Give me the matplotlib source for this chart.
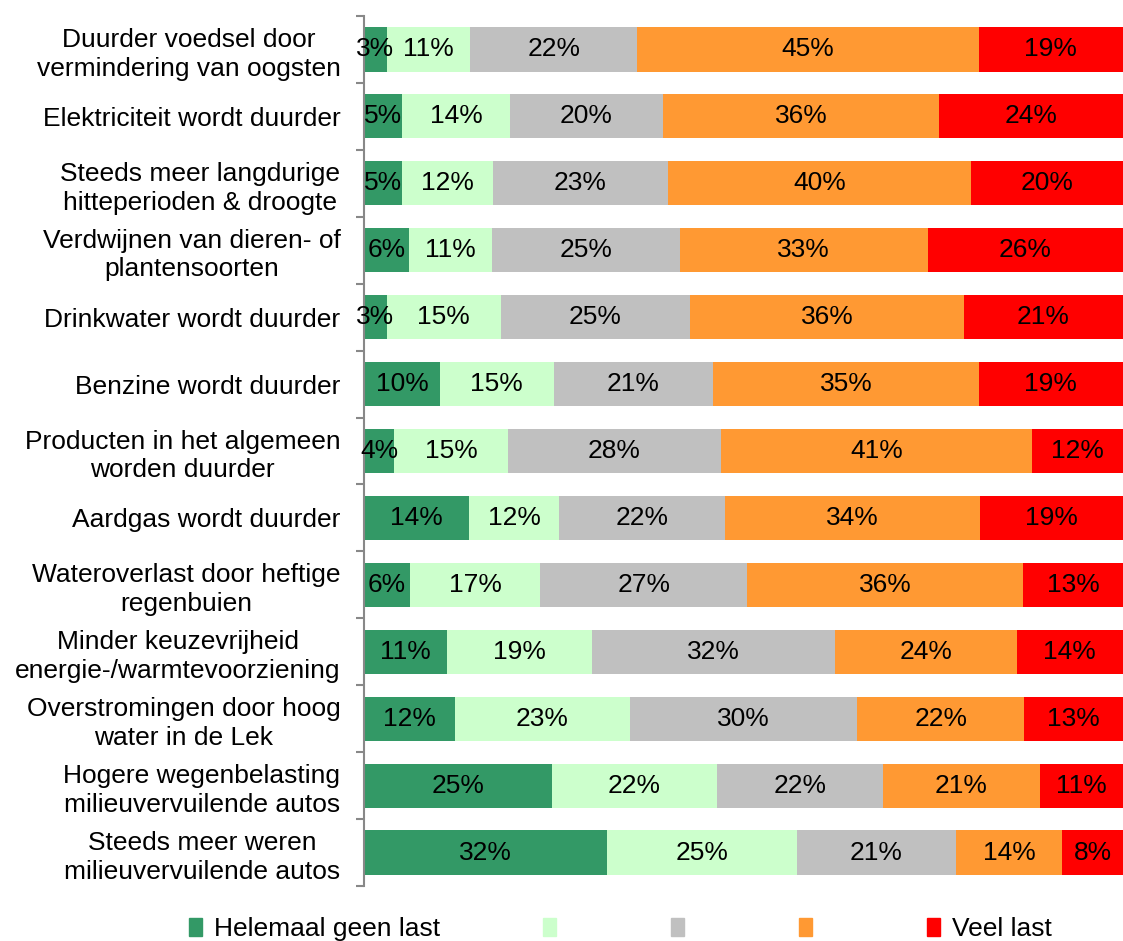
import matplotlib.pyplot as plt
import numpy as np
from matplotlib.patches import Patch

plt.rcParams['font.family'] = ['Liberation Sans', 'DejaVu Sans']

categories = [
    'Duurder voedsel door\nvermindering van oogsten',
    'Elektriciteit wordt duurder',
    'Steeds meer langdurige\nhitteperioden & droogte',
    'Verdwijnen van dieren- of\nplantensoorten',
    'Drinkwater wordt duurder',
    'Benzine wordt duurder',
    'Producten in het algemeen\nworden duurder',
    'Aardgas wordt duurder',
    'Wateroverlast door heftige\nregenbuien',
    'Minder keuzevrijheid\nenergie-/warmtevoorziening',
    'Overstromingen door hoog\nwater in de Lek',
    'Hogere wegenbelasting\nmilieuvervuilende autos',
    'Steeds meer weren\nmilieuvervuilende autos',
]

geen_last = [3, 5, 5, 6, 3, 10, 4, 14, 6, 11, 12, 25, 32]
weinig_last = [11, 14, 12, 11, 15, 15, 15, 12, 17, 19, 23, 22, 25]
neutraal = [22, 20, 23, 25, 25, 21, 28, 22, 27, 32, 30, 22, 21]
wat_last = [45, 36, 40, 33, 36, 35, 41, 34, 36, 24, 22, 21, 14]
veel_last = [19, 24, 20, 26, 21, 19, 12, 19, 13, 14, 13, 11, 8]

legend_labels = ['Helemaal geen last', '', '', '', 'Veel last']
colors = ['#339966', '#CCFFCC', '#C0C0C0', '#FF9933', '#FF0000']

series = np.array([geen_last, weinig_last, neutraal, wat_last, veel_last], dtype=float)
shares = series / series.sum(axis=0)  # 100% stacked

fs = 19

fig = plt.figure(figsize=(11.23, 9.41), dpi=100)
ax = fig.add_axes([364 / 1123, 1 - 886 / 941, 1 - 364 / 1123, 870 / 941])

y = np.arange(len(categories))
left = np.zeros(len(categories))
for i in range(5):
    ax.barh(y, shares[i], left=left, height=0.66, color=colors[i])
    for j in range(len(categories)):
        ax.text(left[j] + shares[i][j] / 2, y[j], f'{int(series[i][j])}%',
                ha='center', va='center', fontsize=fs, color='black')
    left += shares[i]

ax.set_xlim(0, 1)
ax.set_ylim(len(categories) - 0.5, -0.5)
ax.set_xticks([])
ax.set_yticks(y)
ax.set_yticklabels(categories, fontsize=fs, multialignment='center', linespacing=1.25)
ax.tick_params(axis='y', which='major', length=0, pad=17)
ax.set_yticks(np.arange(-0.5, len(categories), 1), minor=True)
ax.tick_params(axis='y', which='minor', length=6, color='#888888', width=1.5)

for s in ['top', 'right', 'bottom']:
    ax.spines[s].set_visible(False)
ax.spines['left'].set_color('#888888')
ax.spines['left'].set_linewidth(1.5)

handles = [Patch(color=c) for c in colors]
fig.legend(handles, legend_labels, loc='center left', bbox_to_anchor=(189 / 1123, 1 - 929 / 941),
           ncol=5, frameon=False, fontsize=fs, handlelength=0.5, handleheight=0.65,
           handletextpad=0.45, columnspacing=3.9, borderpad=0, borderaxespad=0)

fig.savefig('out.png', dpi=100)
